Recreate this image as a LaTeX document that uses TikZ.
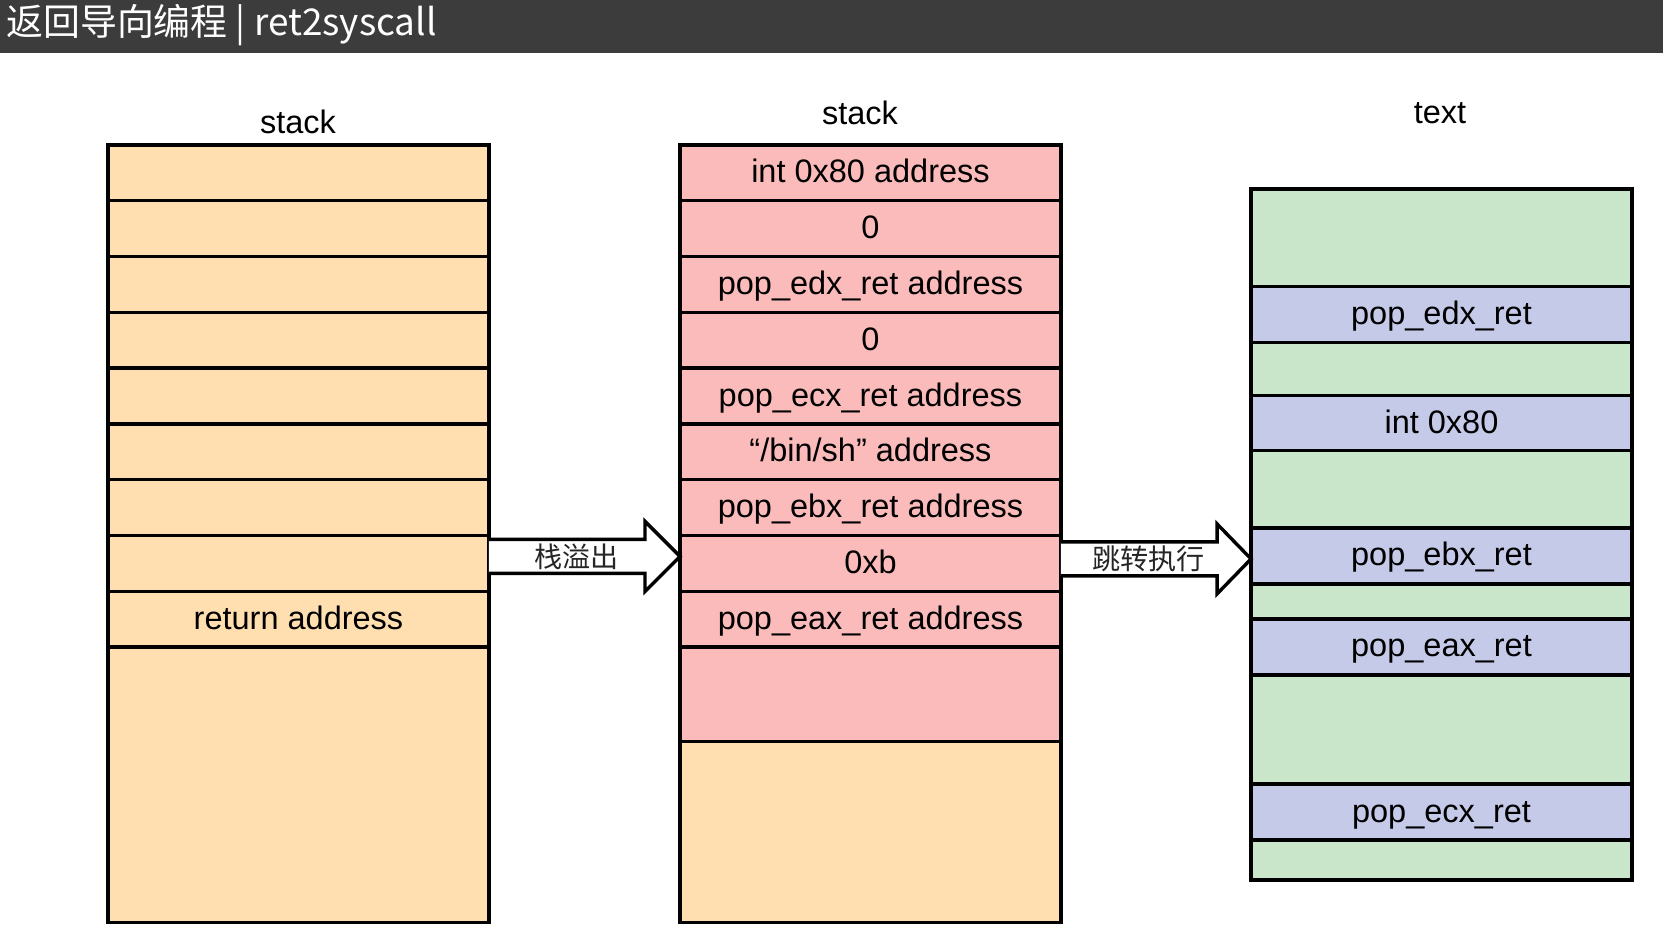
\documentclass[tikz,border=0pt]{standalone}
\usepackage{fontspec}
\setmainfont{Liberation Sans}
\newfontfamily\cjk{Noto Sans CJK SC}
\usetikzlibrary{positioning, calc}

\definecolor{stackorange}{HTML}{FFDFB0}
\definecolor{stackpink}{HTML}{FBBBBB}
\definecolor{textgreen}{HTML}{C9E6CA}
\definecolor{textblue}{HTML}{C5CAE8}
\definecolor{titlegray}{HTML}{3C3C3C}

\tikzset{
    cell/.style={draw, line width=0.068cm, minimum width=7.62cm, minimum height=1.116cm, inner sep=0pt, outer sep=0pt, text height=0.52cm, text depth=0.12cm, font=\fontsize{18.5}{22}\selectfont},
    gadget/.style={cell, fill=textblue, minimum height=1.12cm},
    blockarrow/.style={draw, fill=white, line width=0.068cm, line join=miter},
    caption/.style={font=\fontsize{18.5}{22}\selectfont},
    arrowlabel/.style={font=\cjk\fontsize{16}{18}\selectfont, text=black!85, inner sep=0pt}
}

\begin{document}
\begin{tikzpicture}[x=0.02cm, y=-0.02cm]
    \useasboundingbox (0,0) rectangle (1663,951);
    \fill[titlegray] (0,0) rectangle (1663,53);
    \node (title) [anchor=west, text=white, font=\cjk\fontsize{21}{24}\selectfont, inner sep=0pt] at (6,25) {返回导向编程 | ret2syscall};

    % original stack
    \node (L1) [cell, fill=stackorange, anchor=north] at (298.5,145) {};
    \foreach \i [remember=\i as \j (initially 1)] in {2,...,8}
        \node (L\i) [cell, fill=stackorange, below=0pt of L\j] {};
    \node (L9) [cell, fill=stackorange, below=0pt of L8] {return address};
    \node (L10) [cell, fill=stackorange, minimum height=5.51cm, below=0pt of L9] {};
    \node (Lcap) [caption] at (298,122) {stack};

    % overflowed stack
    \node (M1) [cell, fill=stackpink, anchor=north] at (870.5,145) {int 0x80 address};
    \node (M2) [cell, fill=stackpink, below=0pt of M1] {0};
    \node (M3) [cell, fill=stackpink, below=0pt of M2] {pop\_edx\_ret address};
    \node (M4) [cell, fill=stackpink, below=0pt of M3] {0};
    \node (M5) [cell, fill=stackpink, below=0pt of M4] {pop\_ecx\_ret address};
    \node (M6) [cell, fill=stackpink, below=0pt of M5] {“/bin/sh” address};
    \node (M7) [cell, fill=stackpink, below=0pt of M6] {pop\_ebx\_ret address};
    \node (M8) [cell, fill=stackpink, below=0pt of M7] {0xb};
    \node (M9) [cell, fill=stackpink, below=0pt of M8] {pop\_eax\_ret address};
    \node (M10) [cell, fill=stackpink, minimum height=1.888cm, below=0pt of M9] {};
    \node (M11) [cell, fill=stackorange, minimum height=3.626cm, below=0pt of M10] {};
    \node (Mcap) [caption] at (860,113) {stack};

    % text segment
    \node (R1) [cell, fill=textgreen, minimum height=1.952cm, anchor=north] at (1441.5,189) {};
    \node (R2) [gadget, below=0pt of R1] {pop\_edx\_ret};
    \node (R3) [cell, fill=textgreen, minimum height=1.06cm, below=0pt of R2] {};
    \node (R4) [gadget, minimum height=1.10cm, below=0pt of R3] {int 0x80};
    \node (R5) [cell, fill=textgreen, minimum height=1.548cm, below=0pt of R4] {};
    \node (R6) [gadget, below=0pt of R5] {pop\_ebx\_ret};
    \node (R7) [cell, fill=textgreen, minimum height=0.70cm, below=0pt of R6] {};
    \node (R8) [gadget, below=0pt of R7] {pop\_eax\_ret};
    \node (R9) [cell, fill=textgreen, minimum height=2.184cm, below=0pt of R8] {};
    \node (R10) [gadget, below=0pt of R9] {pop\_ecx\_ret};
    \node (R11) [cell, fill=textgreen, minimum height=0.80cm, below=0pt of R10] {};
    \node (Rcap) [caption] at (1440,113) {text};

    % block arrows
    \coordinate (ovfS) at ($(L8.east)+(0,-7)$);
    \coordinate (ovfE) at (ovfS -| M8.west);
    \draw[blockarrow] ($(ovfS)+(0,-17)$) -- ($(ovfE)+(-35,-17)$) -- ($(ovfE)+(-35,-35)$) -- (ovfE)
        -- ($(ovfE)+(-35,35)$) -- ($(ovfE)+(-35,17)$) -- ($(ovfS)+(0,17)$);
    \node (ovfL) [arrowlabel] at ($(ovfS)!0.46!(ovfE)$) {栈溢出};

    \coordinate (jmpS) at ($(M8.east)+(0,-4.5)$);
    \coordinate (jmpE) at (jmpS -| R6.west);
    \draw[blockarrow] ($(jmpS)+(0,-17)$) -- ($(jmpE)+(-34,-17)$) -- ($(jmpE)+(-34,-35)$) -- (jmpE)
        -- ($(jmpE)+(-34,35)$) -- ($(jmpE)+(-34,17)$) -- ($(jmpS)+(0,17)$);
    \node (jmpL) [arrowlabel] at ($(jmpS)!0.46!(jmpE)$) {跳转执行};
\end{tikzpicture}
\end{document}
